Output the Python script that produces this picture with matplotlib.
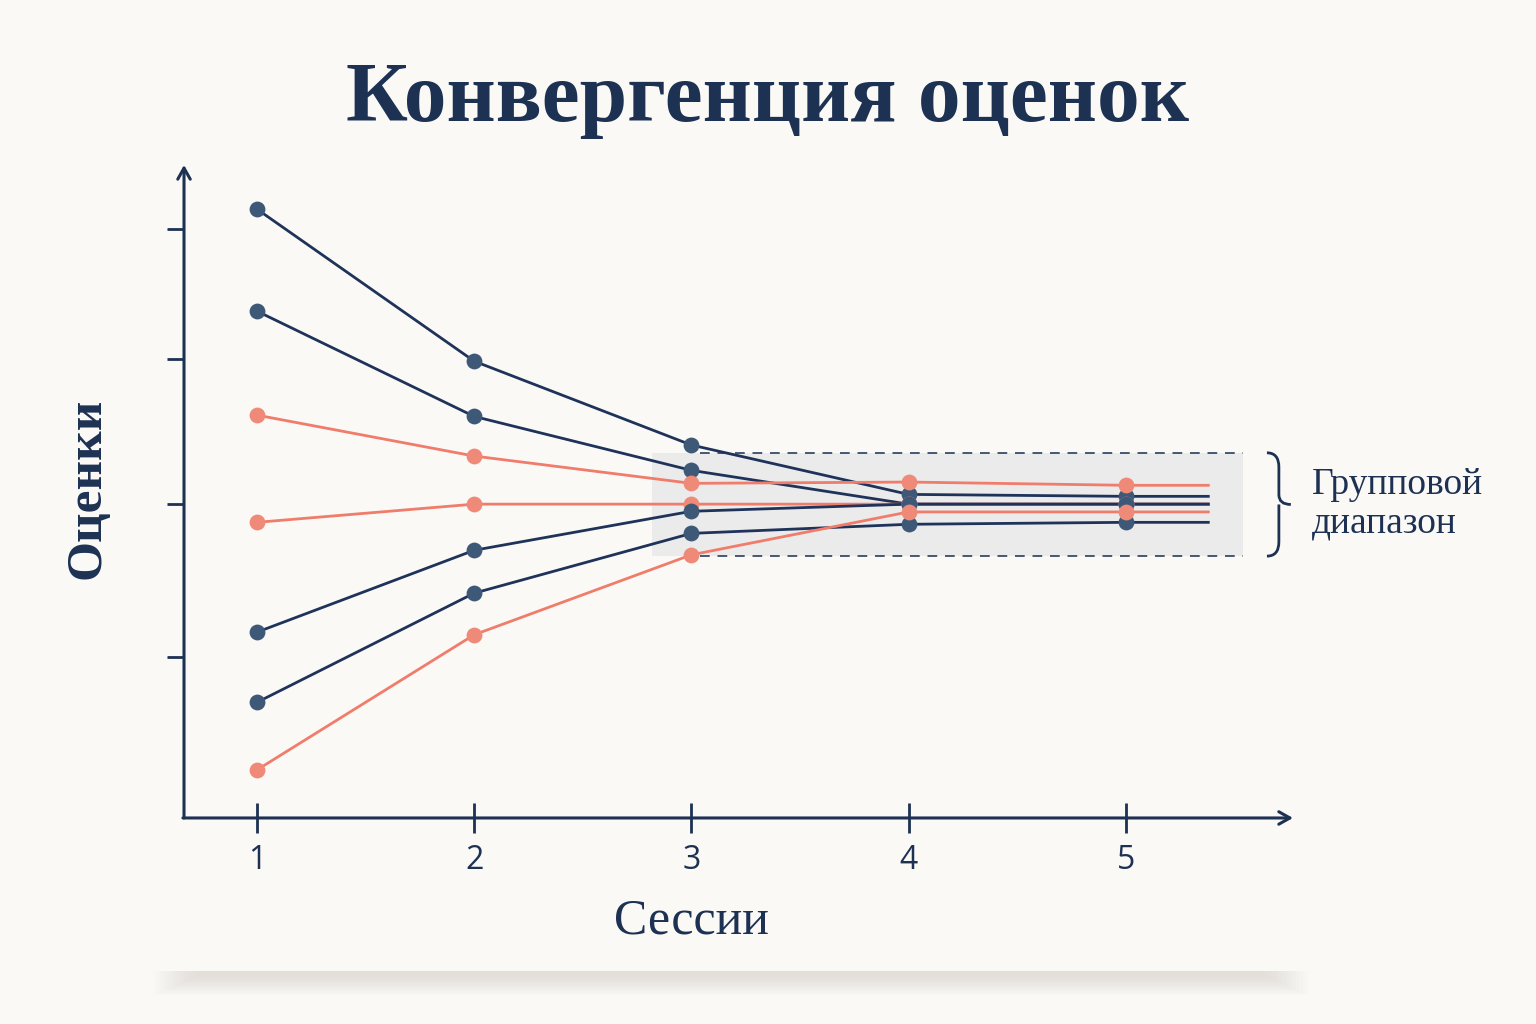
#!/usr/bin/env python3
import numpy as np
import matplotlib
matplotlib.use("Agg")
import matplotlib.pyplot as plt
from matplotlib.path import Path
from matplotlib.patches import PathPatch, Rectangle

# Данные: оценки участников по сессиям
sessions = [1, 2, 3, 4, 5]
session_labels = ["1", "2", "3", "4", "5"]

est_1 = [9.37, 7.03, 5.74, 4.98, 4.95]
est_2 = [7.80, 6.18, 5.35, 4.83, 4.83]
est_3 = [6.20, 5.57, 5.15, 5.17, 5.12]
est_4 = [4.55, 4.83, 4.83, 4.83, 4.83]
est_5 = [2.86, 4.12, 4.72, 4.83, 4.83]
est_6 = [1.78, 3.46, 4.38, 4.52, 4.55]
est_7 = [0.74, 2.82, 4.05, 4.71, 4.71]

groups = ["blue", "blue", "red", "red", "blue", "blue", "red"]

# групповой диапазон
range_low = 4.03
range_high = 5.62

BG = "#fbf9f6"
NAVY = "#1d3153"
BLUE_LINE = "#1f335a"
BLUE_DOT = "#3e5878"
RED_LINE = "#f07c6b"
RED_DOT = "#f08a78"
TAIL = 5.38

fig = plt.figure(figsize=(15.36, 10.24), dpi=100, facecolor=BG)

# тень карточки внизу
for i in range(16):
    fig.patches.append(Rectangle((0.10 + i * 0.002, 0.028 + i * 0.0013), 0.752 - i * 0.004, 0.024 - i * 0.0013,
                                 transform=fig.transFigure, facecolor="#b8b0a8",
                                 alpha=0.02, edgecolor="none", zorder=-3))
fig.patches.append(Rectangle((0.0, 0.052), 1.0, 0.95, transform=fig.transFigure,
                             facecolor=BG, edgecolor="none", zorder=-2))

ax = fig.add_axes([0.1198, 0.2012, 0.722, 0.6377])
ax.set_facecolor("none")
ax.set_xlim(0.664, 5.77)
ax.set_ylim(0, 10.05)

# серый прямоугольник группового диапазона
ax.fill_between([2.82, 5.54], range_low, range_high, color="#e9e9ea", alpha=0.85, zorder=1, linewidth=0)
ax.hlines([range_low, range_high], 3.04, 5.54, colors=NAVY, linestyles=(0, (5, 4)), linewidth=1.4, alpha=0.8, zorder=2)

series = [est_1, est_2, est_3, est_4, est_5, est_6, est_7]
for vals, g in zip(series, groups):
    lc = BLUE_LINE if g == "blue" else RED_LINE
    dc = BLUE_DOT if g == "blue" else RED_DOT
    ax.plot(sessions + [TAIL], vals + [vals[-1]], color=lc, linewidth=2.0, zorder=3)
    ax.scatter(sessions, vals, s=130, color=dc, zorder=4, linewidths=0)

# оси со стрелками
for side in ["top", "right", "left", "bottom"]:
    ax.spines[side].set_visible(False)
ax.annotate("", xy=(0, 1.0), xytext=(0, 0), xycoords="axes fraction",
            arrowprops=dict(arrowstyle="->,head_width=0.45,head_length=0.8", color=NAVY, lw=2.2,
                            shrinkA=0, shrinkB=0))
ax.annotate("", xy=(1.0, 0), xytext=(-0.001, 0), xycoords="axes fraction",
            arrowprops=dict(arrowstyle="->,head_width=0.45,head_length=0.8", color=NAVY, lw=2.2,
                            shrinkA=0, shrinkB=0))

ax.set_xticks(sessions)
ax.set_xticklabels(session_labels, fontsize=23, color=NAVY, family="Open Sans")
ax.tick_params(axis="x", direction="inout", length=22, width=2, color=NAVY, pad=8)
ax.set_yticks([9.06, 7.06, 4.83, 2.48])
ax.set_yticklabels([])
ax.tick_params(axis="y", direction="out", length=12, width=2, color=NAVY)

ax.set_xlabel("Сессии", fontsize=36, color=NAVY, family="Liberation Serif")
ax.xaxis.set_label_coords((3 - 0.664) / (5.77 - 0.664), -0.123)
ax.set_ylabel("Оценки", fontsize=37, color=NAVY, family="Liberation Serif", fontweight="bold")
ax.yaxis.set_label_coords(-0.066, 0.505)

# фигурная скобка
bx0, bx1, bx2 = 5.65, 5.705, 5.76
mid = (range_low + range_high) / 2
verts = [(bx0, range_high), (bx1, range_high), (bx1, range_high - 0.22),
         (bx1, mid + 0.15), (bx1, mid), (bx2, mid),
         (bx1, mid), (bx1, mid - 0.15), (bx1, range_low + 0.22),
         (bx1, range_low), (bx0, range_low)]
codes = [Path.MOVETO, Path.CURVE3, Path.CURVE3,
         Path.LINETO, Path.CURVE3, Path.CURVE3,
         Path.MOVETO, Path.CURVE3, Path.LINETO,
         Path.CURVE3, Path.CURVE3]
ax.add_patch(PathPatch(Path(verts, codes), facecolor="none", edgecolor=NAVY, lw=2.0, clip_on=False))

ax.text(5.855, mid, "Групповой\nдиапазон", fontsize=27, color=NAVY, family="Liberation Serif",
        ha="left", va="center", linespacing=1.15, clip_on=False)

fig.text(0.5, 0.902, "Конвергенция оценок", fontsize=61.5, fontweight="bold", color=NAVY,
         family="Liberation Serif", ha="center", va="center")

fig.savefig("out.png", dpi=100, facecolor=BG)
